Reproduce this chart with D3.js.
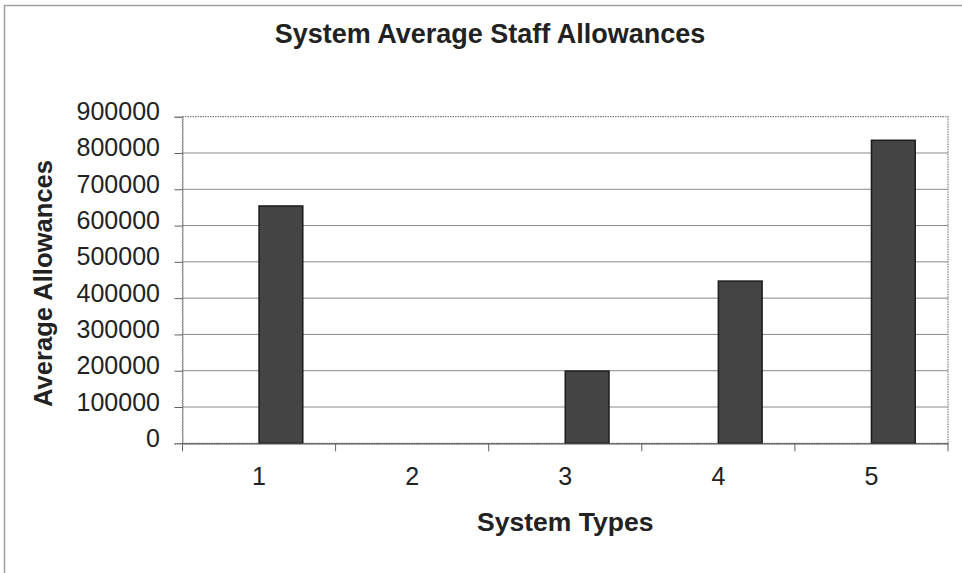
<!DOCTYPE html>
<html>
<head>
<meta charset="utf-8">
<script src="https://cdn.jsdelivr.net/npm/d3@7"></script>
<style>
  html, body { margin: 0; padding: 0; background: #fff; }
  svg { display: block; }
  text { font-family: "Liberation Sans", Arial, sans-serif; fill: #222; }
</style>
</head>
<body>
<svg id="chart" width="962" height="573"></svg>
<script>
// ---- Data ----
const categories = ["1", "2", "3", "4", "5"];
const allowances = [654000, 0, 199000, 447000, 835000];
const yTicks = [0, 100000, 200000, 300000, 400000, 500000, 600000, 700000, 800000, 900000];
const subgroups = ["empty", "allowance"];
const chartTitle = "System Average Staff Allowances";
const xTitle = "System Types";
const yTitle = "Average Allowances";

// ---- Layout ----
const W = 962, H = 573;
const plot = { left: 182.5, right: 948, top: 116.7, bottom: 443.3 };

const svg = d3.select("#chart");

// outer chart border (cropped at right/bottom)
svg.append("rect")
  .attr("x", 4.5).attr("y", 5.5)
  .attr("width", W + 20).attr("height", H + 20)
  .attr("fill", "#fff")
  .attr("stroke", "#a0a0a0").attr("stroke-width", 1.5);

const x0 = d3.scaleBand().domain(categories).range([plot.left, plot.right]).padding(0);
const x1 = d3.scaleBand().domain(subgroups).range([0, x0.bandwidth()])
  .paddingInner(0).paddingOuter(0.75);
const y = d3.scaleLinear().domain([0, 900000]).range([plot.bottom, plot.top]);

// gridlines
svg.append("g").selectAll("line").data(yTicks.filter(d => d > 0 && d < 900000)).join("line")
  .attr("x1", plot.left).attr("x2", plot.right)
  .attr("y1", d => y(d)).attr("y2", d => y(d))
  .attr("stroke", "#8a8a8a").attr("stroke-width", 1);

// plot area border (dotted)
svg.append("rect")
  .attr("x", plot.left).attr("y", plot.top)
  .attr("width", plot.right - plot.left).attr("height", plot.bottom - plot.top)
  .attr("fill", "none")
  .attr("stroke", "#808080").attr("stroke-width", 1.2)
  .attr("stroke-dasharray", "1.5,1");

// bars
svg.append("g").selectAll("rect").data(categories.map((c, i) => ({ c, v: allowances[i] })).filter(d => d.v > 0))
  .join("rect")
  .attr("x", d => x0(d.c) + x1("allowance"))
  .attr("width", x1.bandwidth())
  .attr("y", d => y(d.v))
  .attr("height", d => y(0) - y(d.v))
  .attr("fill", "#444444")
  .attr("stroke", "#1c1c1c").attr("stroke-width", 1.5);

// y axis
const yAxis = svg.append("g")
  .attr("transform", `translate(${plot.left},0)`)
  .call(d3.axisLeft(y).tickValues(yTicks).tickFormat(d3.format("d")).tickSize(8).tickPadding(14.5));
yAxis.select(".domain").attr("stroke", "#707070").attr("stroke-dasharray", "1.5,1");
yAxis.selectAll(".tick line").attr("stroke", "#606060");
yAxis.selectAll("text")
  .attr("font-size", 25).attr("dy", "0.12em").style("fill", "#222");

// x axis
const xAxis = svg.append("g")
  .attr("transform", `translate(0,${plot.bottom})`)
  .call(d3.axisBottom(x0).tickSize(0).tickPadding(24));
xAxis.select(".domain").attr("stroke", "#555").attr("stroke-width", 1.3);
xAxis.selectAll("text").attr("font-size", 25).style("fill", "#222");

// category boundary tick marks
const bounds = categories.map(c => x0(c)).concat([plot.right]);
svg.append("g").selectAll("line").data(bounds).join("line")
  .attr("x1", d => d).attr("x2", d => d)
  .attr("y1", plot.bottom).attr("y2", plot.bottom + 8)
  .attr("stroke", "#606060").attr("stroke-width", 1);

// titles
svg.append("text")
  .attr("x", 490).attr("y", 43.3)
  .attr("text-anchor", "middle")
  .attr("font-size", 27).attr("font-weight", "bold")
  .text(chartTitle);

svg.append("text")
  .attr("x", (plot.left + plot.right) / 2).attr("y", 531)
  .attr("text-anchor", "middle")
  .attr("font-size", 26.5).attr("font-weight", "bold")
  .text(xTitle);

svg.append("text")
  .attr("transform", "translate(52,283.5) rotate(-90)")
  .attr("text-anchor", "middle")
  .attr("font-size", 25.6).attr("font-weight", "bold")
  .text(yTitle);
</script>
</body>
</html>
